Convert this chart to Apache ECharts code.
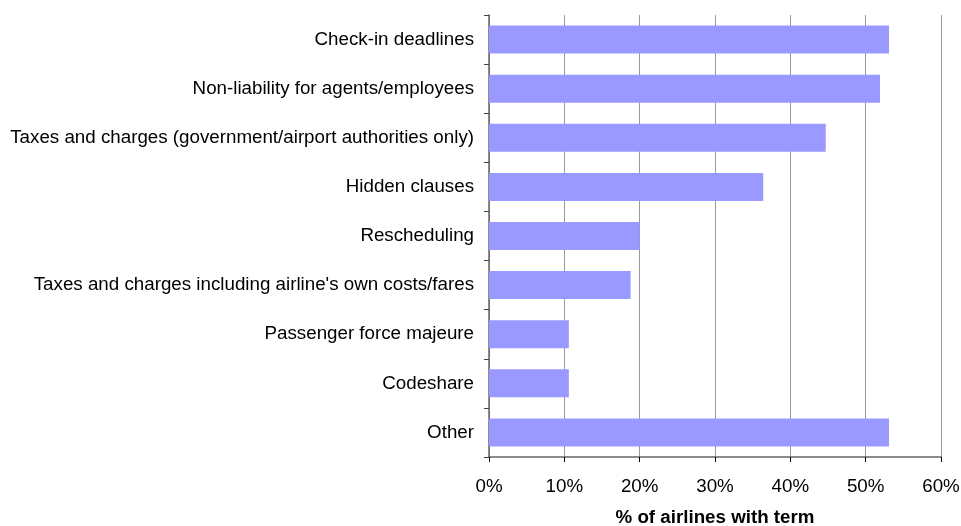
<!DOCTYPE html>
<html>
<head>
<meta charset="utf-8">
<script src="https://cdn.jsdelivr.net/npm/echarts@6/dist/echarts.min.js"></script>
<style>
  html, body { margin: 0; padding: 0; background: #fff; }
  #chart { width: 961px; height: 526px; }
</style>
</head>
<body>
<div id="chart"></div>
<script>
// Contract terms, listed top to bottom
const categories = [
  'Check-in deadlines',
  'Non-liability for agents/employees',
  'Taxes and charges (government/airport authorities only)',
  'Hidden clauses',
  'Rescheduling',
  "Taxes and charges including airline's own costs/fares",
  'Passenger force majeure',
  'Codeshare',
  'Other'
];
// Share of airlines with each term (%)
const shares = [53.1, 51.9, 44.7, 36.4, 20.0, 18.8, 10.6, 10.6, 53.1];
const xTicks = [0, 10, 20, 30, 40, 50, 60];

const font = 'Liberation Sans, Arial, sans-serif';
const fs = 18.75;
const chart = echarts.init(document.getElementById('chart'));
chart.setOption({
  animation: false,
  grid: { left: 489, right: 20, top: 15, bottom: 69, containLabel: false, outerBoundsMode: 'none' },
  xAxis: {
    type: 'value',
    min: xTicks[0],
    max: xTicks[xTicks.length - 1],
    interval: 10,
    name: '% of airlines with term',
    nameLocation: 'middle',
    nameGap: 51,
    nameTextStyle: { fontFamily: font, fontSize: fs, fontWeight: 'bold', color: '#000' },
    axisLine: { show: true, lineStyle: { color: '#666', width: 1.5 } },
    axisTick: { show: true, length: 5, lineStyle: { color: '#000' } },
    axisLabel: { formatter: '{value}%', fontFamily: font, fontSize: fs, color: '#000', margin: 20 },
    splitLine: { show: true, lineStyle: { color: '#999', width: 1 } }
  },
  yAxis: {
    type: 'category',
    inverse: true,
    data: categories,
    axisLine: { show: true, lineStyle: { color: '#666', width: 1.5 } },
    axisTick: { show: true, length: 5, lineStyle: { color: '#444' } },
    axisLabel: { fontFamily: font, fontSize: fs, color: '#000', margin: 15 },
    splitLine: { show: false }
  },
  series: [{
    type: 'bar',
    data: shares,
    barCategoryGap: '43%',
    itemStyle: { color: '#9999FF' }
  }]
});
</script>
</body>
</html>
